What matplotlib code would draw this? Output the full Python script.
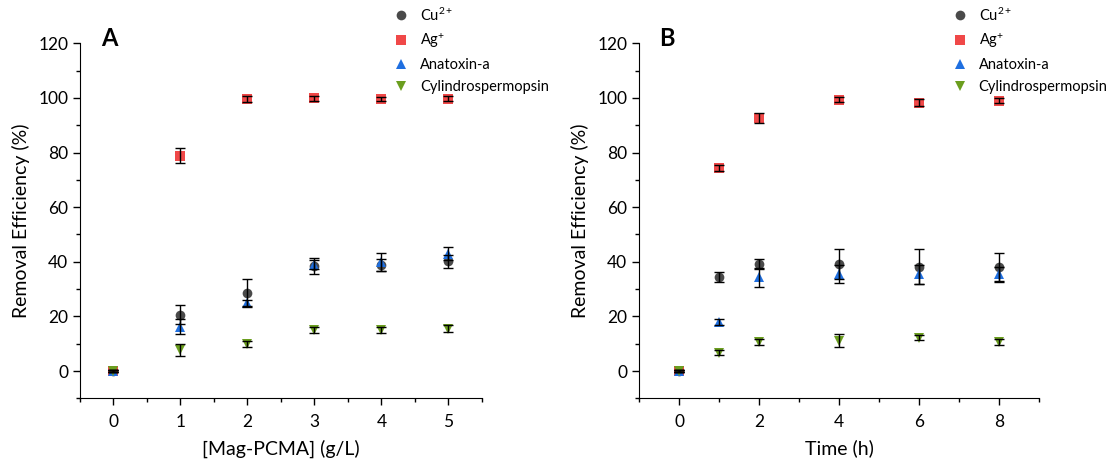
import matplotlib
matplotlib.use("Agg")
import matplotlib.pyplot as plt
from matplotlib.ticker import MultipleLocator
from matplotlib.lines import Line2D

plt.rcParams['font.family'] = ['Lato', 'DejaVu Sans']
plt.rcParams['mathtext.fontset'] = 'custom'
plt.rcParams['mathtext.rm'] = 'Lato'
plt.rcParams['mathtext.it'] = 'Lato'

# ---- Data ----
series = ['Cu$^{2+}$', 'Ag$^{+}$', 'Anatoxin-a', 'Cylindrospermopsin']

dose = [0, 1, 2, 3, 4, 5]
dose_cu = [0, 20.6, 28.7, 38.4, 38.8, 40.2]
dose_cu_err = [0.5, 3.4, 5.0, 2.9, 2.2, 2.3]
dose_ag = [0, 78.8, 99.6, 99.8, 99.7, 99.7]
dose_ag_err = [0.5, 2.8, 1.0, 0.8, 0.8, 1.0]
dose_ana = [0, 16.2, 24.8, 39.0, 40.0, 43.0]
dose_ana_err = [0.5, 2.8, 1.3, 1.5, 3.3, 2.5]
dose_cyl = [0, 7.7, 9.9, 15.1, 15.0, 15.5]
dose_cyl_err = [0.5, 2.3, 1.0, 1.0, 1.0, 1.2]

time = [0, 1, 2, 4, 6, 8]
time_cu = [0, 34.3, 39.3, 39.1, 38.2, 38.2]
time_cu_err = [0.5, 1.8, 1.8, 5.4, 6.4, 5.1]
time_ag = [0, 74.3, 92.6, 99.4, 98.3, 99.0]
time_ag_err = [0.5, 1.0, 1.8, 1.0, 1.2, 1.0]
time_ana = [0, 18.0, 34.3, 35.4, 35.4, 35.4]
time_ana_err = [0.5, 1.0, 3.6, 3.3, 3.5, 2.8]
time_cyl = [0, 6.7, 10.6, 11.1, 12.2, 10.7]
time_cyl_err = [0.5, 1.0, 1.0, 2.3, 1.0, 1.0]

colors = ['#4a4a4a', '#f04848', '#1f6fe0', '#6b9e1f']
markers = ['o', 's', '^', 'v']

fig = plt.figure(figsize=(11.09, 4.65), dpi=100)
axA = fig.add_axes([0.0721, 0.1434, 0.3625, 0.7635])
axB = fig.add_axes([0.5762, 0.1434, 0.3610, 0.7635])


def draw(ax, x, ys, errs):
    for y, e, c, m in zip(ys, errs, colors, markers):
        ax.plot(x, y, linestyle='none', marker=m, color=c, markersize=7,
                markeredgewidth=0, zorder=2)
        ax.errorbar(x, y, yerr=e, fmt='none', ecolor='black', elinewidth=1,
                    capsize=3.5, capthick=1, zorder=3)
    for s in ['top', 'right']:
        ax.spines[s].set_visible(False)
    ax.set_ylim(-10, 120)
    ax.yaxis.set_major_locator(MultipleLocator(20))
    ax.yaxis.set_minor_locator(MultipleLocator(10))
    ax.tick_params(which='major', direction='out', length=5, width=1,
                   labelsize=12.5)
    ax.tick_params(axis='x', which='major', pad=6)
    ax.tick_params(which='minor', direction='out', length=3, width=1)
    ax.set_ylabel('Removal Efficiency (%)', fontsize=14, labelpad=6)


draw(axA, dose, [dose_cu, dose_ag, dose_ana, dose_cyl],
     [dose_cu_err, dose_ag_err, dose_ana_err, dose_cyl_err])
axA.set_xlim(-0.5, 5.5)
axA.xaxis.set_major_locator(MultipleLocator(1))
axA.xaxis.set_minor_locator(MultipleLocator(0.5))
axA.set_xlabel('[Mag-PCMA] (g/L)', fontsize=14, labelpad=7)

draw(axB, time, [time_cu, time_ag, time_ana, time_cyl],
     [time_cu_err, time_ag_err, time_ana_err, time_cyl_err])
axB.set_xlim(-1, 9)
axB.xaxis.set_major_locator(MultipleLocator(2))
axB.xaxis.set_minor_locator(MultipleLocator(1))
axB.set_xlabel('Time (h)', fontsize=14, labelpad=7)

fig.text(109 / 1109, 1 - 38 / 465, 'A', fontsize=17, fontweight='bold',
         ha='center', va='center')
fig.text(667 / 1109, 1 - 38 / 465, 'B', fontsize=17, fontweight='bold',
         ha='center', va='center')

handles = [Line2D([], [], linestyle='none', marker=m, color=c, markersize=7,
                  markeredgewidth=0) for c, m in zip(colors, markers)]
for ax, xm in [(axA, 399), (axB, 957.7)]:
    fig.legend(handles, series, loc='upper left',
               bbox_to_anchor=((xm - 17) / 1109, 1 + 4 / 465),
               frameon=False, fontsize=10.5, handlelength=1.2,
               handletextpad=0.7, labelspacing=0.55, borderpad=0.2)

fig.savefig('out.png', dpi=100)
